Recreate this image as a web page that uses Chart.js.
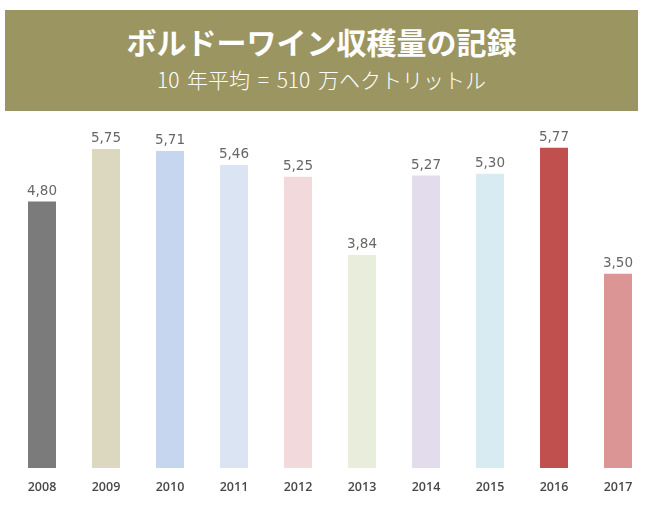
<!DOCTYPE html>
<html>
<head>
<meta charset="utf-8">
<script src="https://cdn.jsdelivr.net/npm/chart.js@4.4.0/dist/chart.umd.min.js"></script>
<style>
  html, body { margin: 0; padding: 0; background: #ffffff; }
  #wrap { position: relative; width: 650px; height: 508px; overflow: hidden; }
  #banner {
    position: absolute; left: 5px; top: 10px; width: 633px; height: 101px;
    background: #9b9561; color: #ffffff; text-align: center;
    font-family: "Noto Sans CJK JP", "Noto Sans", sans-serif;
  }
  #title { position: absolute; left: 0; right: 0; top: 11px; font-size: 30px; font-weight: 700; line-height: 40px; }
  #subtitle { position: absolute; left: 0; right: 0; top: 55px; font-size: 21px; font-weight: 300; line-height: 28px; word-spacing: 3px; }
  #c { position: absolute; left: 0; top: 0; }
</style>
</head>
<body>
<div id="wrap">
  <canvas id="c" width="650" height="508"></canvas>
  <div id="banner">
    <div id="title">ボルドーワイン収穫量の記録</div>
    <div id="subtitle">10 年平均 = 510 万ヘクトリットル</div>
  </div>
</div>
<script>
const years = ["2008","2009","2010","2011","2012","2013","2014","2015","2016","2017"];
const harvest = [4.80, 5.75, 5.71, 5.46, 5.25, 3.84, 5.27, 5.30, 5.77, 3.50];
const barColors = ["#7b7b7b","#dcd7bf","#c6d6ef","#dbe4f2","#f2d9db","#e9eddc","#e3dcec","#d8ebf3","#c0504e","#da9594"];

const valueLabels = {
  id: 'valueLabels',
  afterDatasetsDraw(chart) {
    const ctx = chart.ctx;
    const meta = chart.getDatasetMeta(0);
    ctx.save();
    ctx.font = '400 13.5px "DejaVu Sans", sans-serif';
    ctx.fillStyle = '#666666';
    ctx.textAlign = 'center';
    ctx.textBaseline = 'alphabetic';
    meta.data.forEach((bar, i) => {
      const txt = harvest[i].toFixed(2).replace('.', ',');
      ctx.fillText(txt, bar.x, bar.y - 7);
    });
    ctx.restore();
  }
};

new Chart(document.getElementById('c'), {
  type: 'bar',
  data: {
    labels: years,
    datasets: [{
      data: harvest,
      backgroundColor: barColors,
      borderWidth: 0,
      barPercentage: 0.4375,
      categoryPercentage: 1.0
    }]
  },
  options: {
    responsive: false,
    animation: false,
    devicePixelRatio: 1,
    layout: { padding: { top: 135, left: 10, right: 0, bottom: 0 } },
    plugins: { legend: { display: false }, tooltip: { enabled: false }, title: { display: false } },
    scales: {
      y: {
        display: false,
        min: 0, max: 6
      },
      x: {
        grid: { display: false, drawTicks: false },
        border: { display: false },
        ticks: {
          padding: 12,
          color: '#484848',
          font: { family: '"Open Sans", sans-serif', size: 12.5, weight: '600' }
        },
        afterFit(scale) { scale.height = 40; }
      }
    }
  },
  plugins: [valueLabels]
});
</script>
</body>
</html>
